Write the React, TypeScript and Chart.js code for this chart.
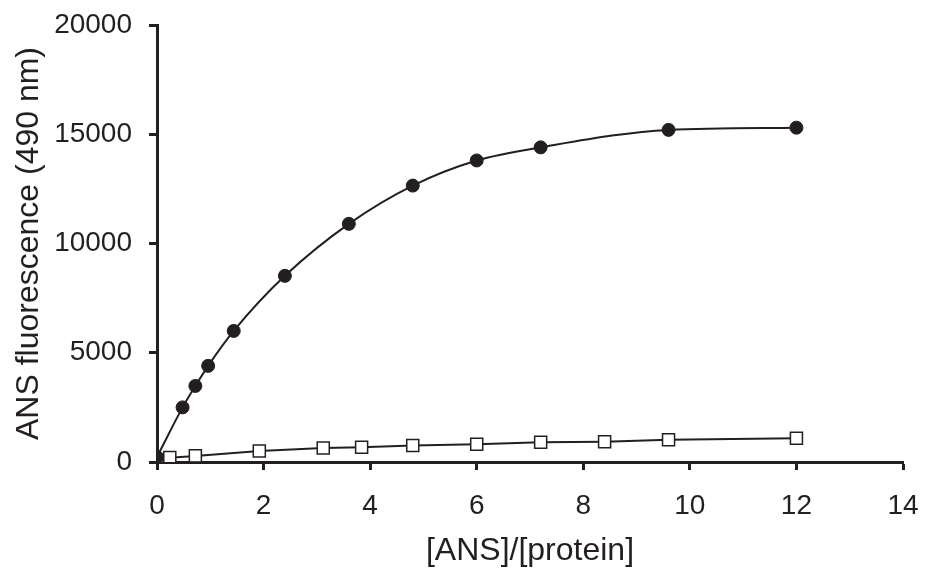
import React, { useEffect, useRef } from "react";
import { Chart, registerables } from "chart.js";

Chart.register(...registerables);

const ratioFilled = [0, 0.48, 0.72, 0.96, 1.44, 2.4, 3.6, 4.8, 6.0, 7.2, 9.6, 12];
const fluorFilled = [230, 2500, 3480, 4400, 6000, 8520, 10900, 12650, 13800, 14400, 15200, 15300];

const ratioOpen = [0, 0.24, 0.72, 1.92, 3.12, 3.84, 4.8, 6.0, 7.2, 8.4, 9.6, 12];
const fluorOpen = [40, 200, 280, 500, 640, 670, 750, 810, 900, 930, 1020, 1090];

const xTitle = "[ANS]/[protein]";
const yTitle = "ANS fluorescence (490 nm)";

const INK = "#231f20";
const FONT = "'Liberation Sans', Arial, sans-serif";

const zeroPad = (s: any) => {
  s.paddingTop = 0;
  s.paddingBottom = 0;
  s.paddingLeft = 0;
  s.paddingRight = 0;
};

export default function App() {
  const ref = useRef<HTMLCanvasElement | null>(null);

  useEffect(() => {
    if (!ref.current) return;
    const chart = new Chart(ref.current, {
      type: "scatter",
      data: {
        datasets: [
          {
            label: "filled",
            data: ratioFilled.map((x, i) => ({ x, y: fluorFilled[i] })),
            showLine: true,
            borderColor: INK,
            borderWidth: 2,
            backgroundColor: INK,
            pointBackgroundColor: INK,
            pointBorderColor: INK,
            pointRadius: 6.5,
            pointBorderWidth: 1,
            pointStyle: "circle",
            tension: 0.4,
            cubicInterpolationMode: "monotone",
          },
          {
            label: "open",
            data: ratioOpen.map((x, i) => ({ x, y: fluorOpen[i] })),
            showLine: true,
            borderColor: INK,
            borderWidth: 2,
            backgroundColor: "#ffffff",
            pointBackgroundColor: "#ffffff",
            pointBorderColor: INK,
            pointRadius: 8.5,
            pointBorderWidth: 1.5,
            pointStyle: "rect",
            tension: 0,
          },
        ],
      },
      options: {
        animation: false,
        responsive: false,
        maintainAspectRatio: false,
        layout: { padding: { top: 25, right: 23, left: 0, bottom: 0 } },
        plugins: {
          legend: { display: false },
          tooltip: { enabled: false },
        },
        scales: {
          x: {
            type: "linear",
            min: 0,
            max: 14,
            afterFit: (s: any) => {
              s.height = 112;
              zeroPad(s);
            },
            ticks: {
              stepSize: 2,
              color: INK,
              padding: 19,
              font: { family: FONT, size: 28 },
            },
            grid: {
              display: true,
              drawOnChartArea: false,
              drawTicks: true,
              tickLength: 8,
              tickWidth: 3,
              color: INK,
            },
            border: { display: true, color: INK, width: 3 },
            title: {
              display: true,
              text: xTitle,
              color: INK,
              font: { family: FONT, size: 32 },
              padding: { top: 0, bottom: 4 },
            },
          },
          y: {
            type: "linear",
            min: 0,
            max: 20000,
            afterFit: (s: any) => {
              s.width = 157;
              zeroPad(s);
            },
            ticks: {
              stepSize: 5000,
              color: INK,
              padding: 17,
              font: { family: FONT, size: 28 },
              callback: (v: any) => String(v),
            },
            grid: {
              display: true,
              drawOnChartArea: false,
              drawTicks: true,
              tickLength: 8,
              tickWidth: 3,
              color: INK,
            },
            border: { display: true, color: INK, width: 3 },
            title: {
              display: true,
              text: yTitle,
              color: INK,
              font: { family: FONT, size: 32 },
              padding: { top: 10, bottom: 0 },
            },
          },
        },
      },
    });
    return () => chart.destroy();
  }, []);

  return (
    <div style={{ position: "fixed", left: 0, top: 0, width: 926, height: 574, background: "#fff" }}>
      <canvas ref={ref} width={926} height={574} style={{ display: "block" }} />
    </div>
  );
}
